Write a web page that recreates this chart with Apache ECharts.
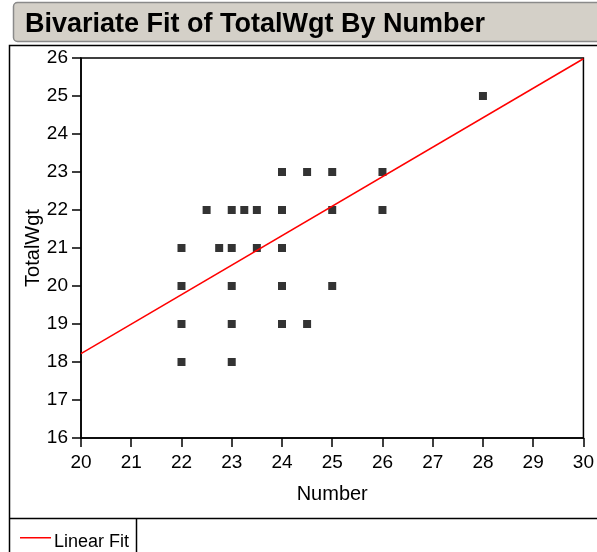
<!DOCTYPE html>
<html>
<head>
<meta charset="utf-8">
<title>Bivariate Fit of TotalWgt By Number</title>
<script src="https://cdn.jsdelivr.net/npm/echarts@6/dist/echarts.min.js"></script>
<style>
html, body {
	margin: 0;
	padding: 0;
	background: #fff;
}
#chart {
	width: 597px;
	height: 552px;
}
</style>
</head>
<body>
<div id="chart"></div>
<script type="text/javascript">
    var numberVals = [22, 22, 22, 22, 22.5, 22.75, 23, 23, 23, 23, 23, 23.25, 23.5, 23.5,
                      24, 24, 24, 24, 24, 24.5, 24.5, 25, 25, 25, 26, 26, 28];
    var totalWgtVals = [18, 19, 20, 21, 22, 21, 18, 19, 20, 21, 22, 22, 22, 21,
                        19, 20, 21, 22, 23, 23, 19, 20, 22, 23, 22, 23, 25];

    // linear fit end points
    var fitX = [20, 30];
    var fitY = [18.22, 25.98];

    var fontName = 'Liberation Sans, Arial, sans-serif';

    var points = [];
    for (var i = 0; i < numberVals.length; i++) {
        points.push([numberVals[i], totalWgtVals[i]]);
    }
    var fitLine = [[fitX[0], fitY[0]], [fitX[1], fitY[1]]];

    var chart = echarts.init(document.getElementById('chart'));

    var option = {
        backgroundColor: '#fff',
        animation: false,
        title: {
            text: 'Bivariate Fit of TotalWgt By Number',
            left: 20,
            top: 6,
            textStyle: {
                fontFamily: fontName,
                fontSize: 27,
                fontWeight: 'bold',
                color: '#000'
            }
        },
        graphic: [
            // title bar
            {
                type: 'rect', z: -1,
                shape: {x: 13.5, y: 2.5, width: 600, height: 39, r: 4},
                style: {fill: '#d4d0c8', stroke: '#8a8a8a', lineWidth: 1.5}
            },
            // outer frame
            {
                type: 'rect', z: -1,
                shape: {x: 9.5, y: 45.5, width: 600, height: 520},
                style: {fill: 'none', stroke: '#000', lineWidth: 1.5}
            },
            // legend separator
            {
                type: 'line',
                shape: {x1: 9.5, y1: 518.5, x2: 597, y2: 518.5},
                style: {stroke: '#000', lineWidth: 1.5}
            },
            {
                type: 'line',
                shape: {x1: 136.5, y1: 518.5, x2: 136.5, y2: 552},
                style: {stroke: '#000', lineWidth: 1.5}
            }
        ],
        legend: {
            data: ['Linear Fit'],
            left: 15,
            top: 528,
            // short red stroke sitting a little above the text middle
            icon: 'path://M0,0H31V1.5H0Z M0,10H0.01V10.01H0Z',
            itemWidth: 31,
            itemHeight: 10,
            itemGap: 3,
            textStyle: {fontFamily: fontName, fontSize: 18, color: '#000', padding: [0, 0, 0, -2]}
        },
        grid: {
            left: 81,
            right: 13,
            top: 58,
            bottom: 114,
            show: true,
            borderColor: '#000',
            borderWidth: 1.5
        },
        xAxis: {
            type: 'value',
            min: 20,
            max: 30,
            interval: 1,
            name: 'Number',
            nameLocation: 'middle',
            nameGap: 46,
            nameTextStyle: {fontFamily: fontName, fontSize: 20, color: '#000'},
            axisLine: {show: true, lineStyle: {color: '#000', width: 1.5}},
            axisTick: {show: true, inside: false, length: 9, lineStyle: {color: '#000', width: 1.5}},
            axisLabel: {fontFamily: fontName, fontSize: 19, color: '#000', margin: 15, showMaxLabel: true},
            splitLine: {show: false}
        },
        yAxis: {
            type: 'value',
            min: 16,
            max: 26,
            interval: 1,
            name: 'TotalWgt',
            nameLocation: 'middle',
            nameGap: 38,
            nameMoveOverlap: false,
            nameTextStyle: {fontFamily: fontName, fontSize: 20, color: '#000'},
            axisLine: {show: true, lineStyle: {color: '#000', width: 1.5}},
            axisTick: {show: true, inside: false, length: 9, lineStyle: {color: '#000', width: 1.5}},
            axisLabel: {fontFamily: fontName, fontSize: 19, color: '#000', margin: 13},
            splitLine: {show: false}
        },
        series: [{
            name: 'Points',
            type: 'scatter',
            symbol: 'rect',
            symbolSize: 8,
            itemStyle: {color: '#000'},
            data: points
        }, {
            name: 'Linear Fit',
            type: 'line',
            showSymbol: false,
            symbol: 'none',
            lineStyle: {color: '#ff0000', width: 1.5},
            itemStyle: {color: '#ff0000'},
            data: fitLine
        }]
    };

    chart.setOption(option);
</script>
</body>
</html>
